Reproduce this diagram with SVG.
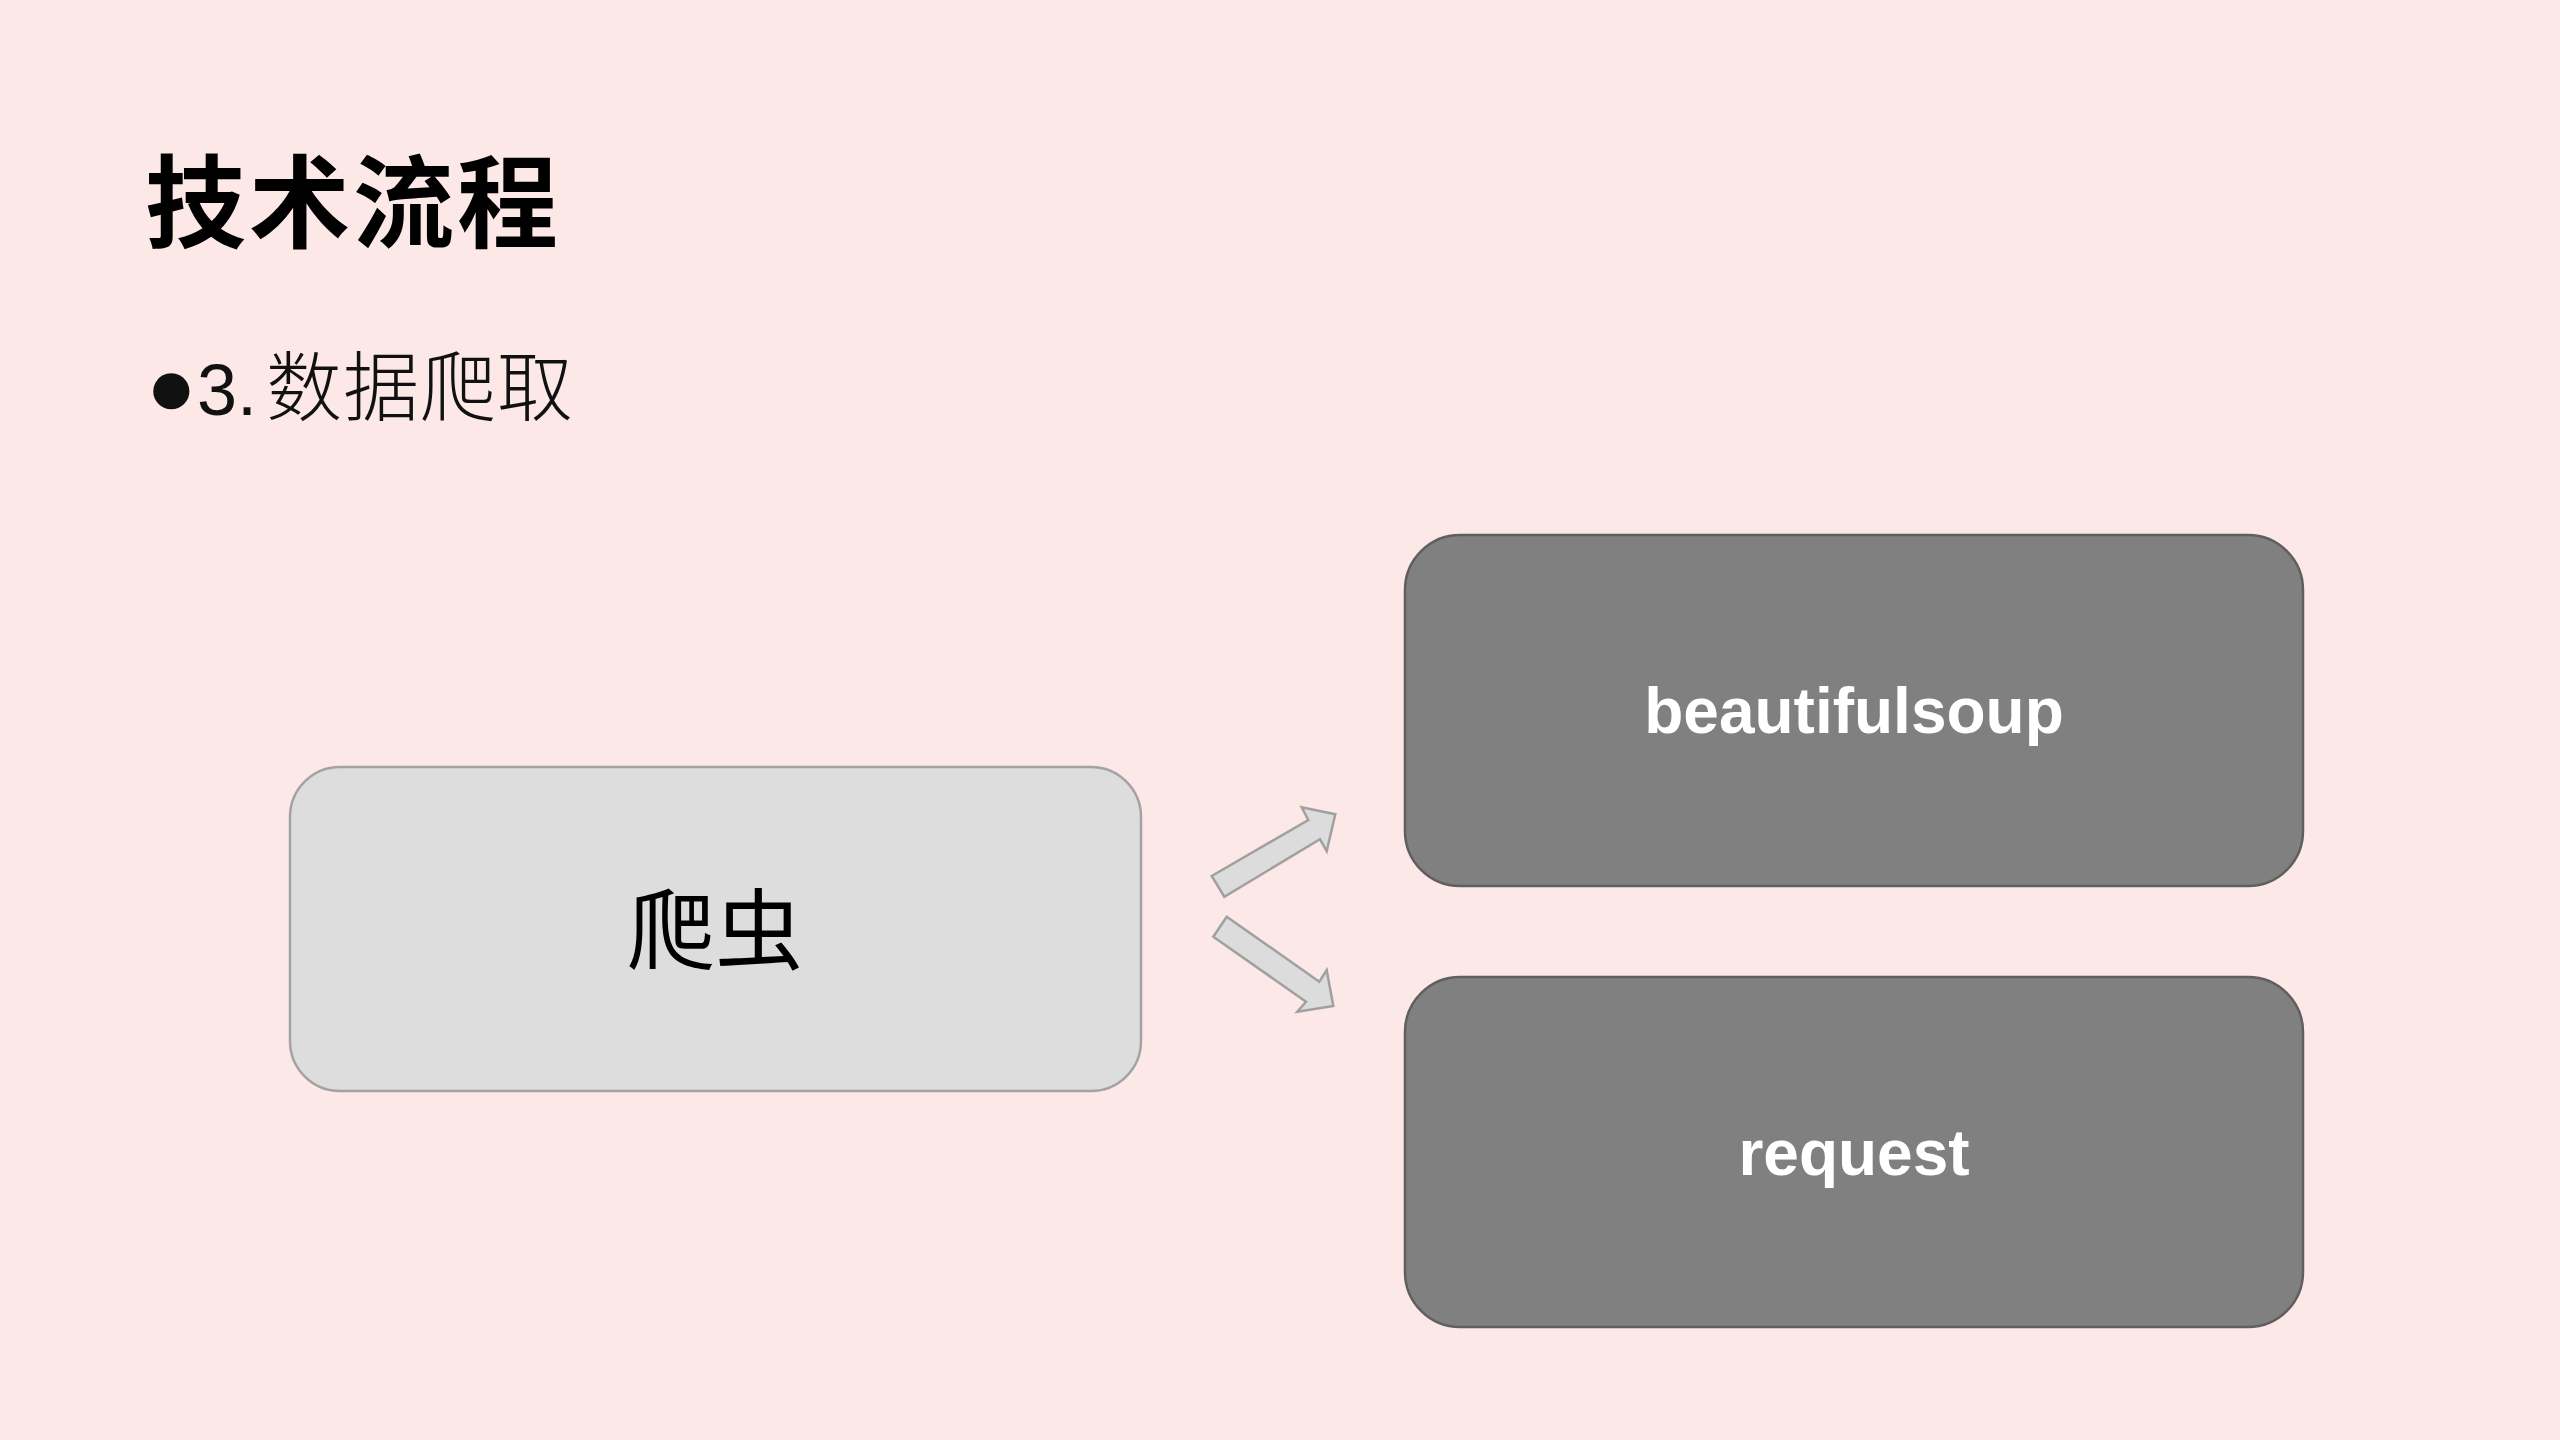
<svg xmlns="http://www.w3.org/2000/svg" width="2560" height="1440" viewBox="0 0 2560 1440">
<style>
.cjk{font-family:"Noto Sans CJK SC","Noto Sans CJK JP",sans-serif}
.lat{font-family:"Liberation Sans",Arial,sans-serif}
.dark rect{fill:#808080;stroke:#5f5f5f;stroke-width:2.5}
.light rect{fill:#dddddd;stroke:#a3a3a3;stroke-width:2.5}
.lbl{font-family:"Liberation Sans",Arial,sans-serif;font-weight:bold;font-size:64px;fill:#ffffff;text-anchor:middle}
.arrow{fill:#dcdcdc;stroke:#a0a0a0;stroke-width:2.5;stroke-linejoin:miter}
</style>
<rect x="0" y="0" width="2560" height="1440" fill="#fde8e8"/>
<g id="title">
<text x="145" y="240" class="cjk" font-size="101" font-weight="bold" fill="#000" letter-spacing="3">技术流程</text>
</g>
<g id="subtitle">
<text y="415" font-size="72" fill="#111">
<tspan x="146" class="lat" font-size="84">●</tspan><tspan x="197" class="lat">3.</tspan><tspan x="266" class="cjk" font-size="76" font-weight="300" letter-spacing="1">数据爬取</tspan>
</text>
</g>
<g id="node-crawler" class="light">
<rect x="290" y="767" width="851" height="324" rx="50" ry="50"/>
<text x="715" y="962" class="cjk" font-size="88" fill="#000" text-anchor="middle">爬虫</text>
</g>
<g id="node-beautifulsoup" class="dark">
<rect x="1405" y="535" width="898" height="351" rx="55" ry="55"/>
<text x="1854" y="733" class="lbl">beautifulsoup</text>
</g>
<g id="node-request" class="dark">
<rect x="1405" y="977" width="898" height="350" rx="55" ry="55"/>
<text x="1854" y="1175" class="lbl">request</text>
</g>
<g id="connectors">
<polygon class="arrow" points="1211.7,876 1308.3,820 1301.7,807.3 1335.3,814.3 1326.7,851 1320,839.3 1224.3,896.7"/>
<polygon class="arrow" points="1226.7,916.7 1319.3,981.7 1326.7,970 1333.3,1006 1297.3,1011.7 1306,1001.7 1213.3,936.7"/>
</g>
</svg>
